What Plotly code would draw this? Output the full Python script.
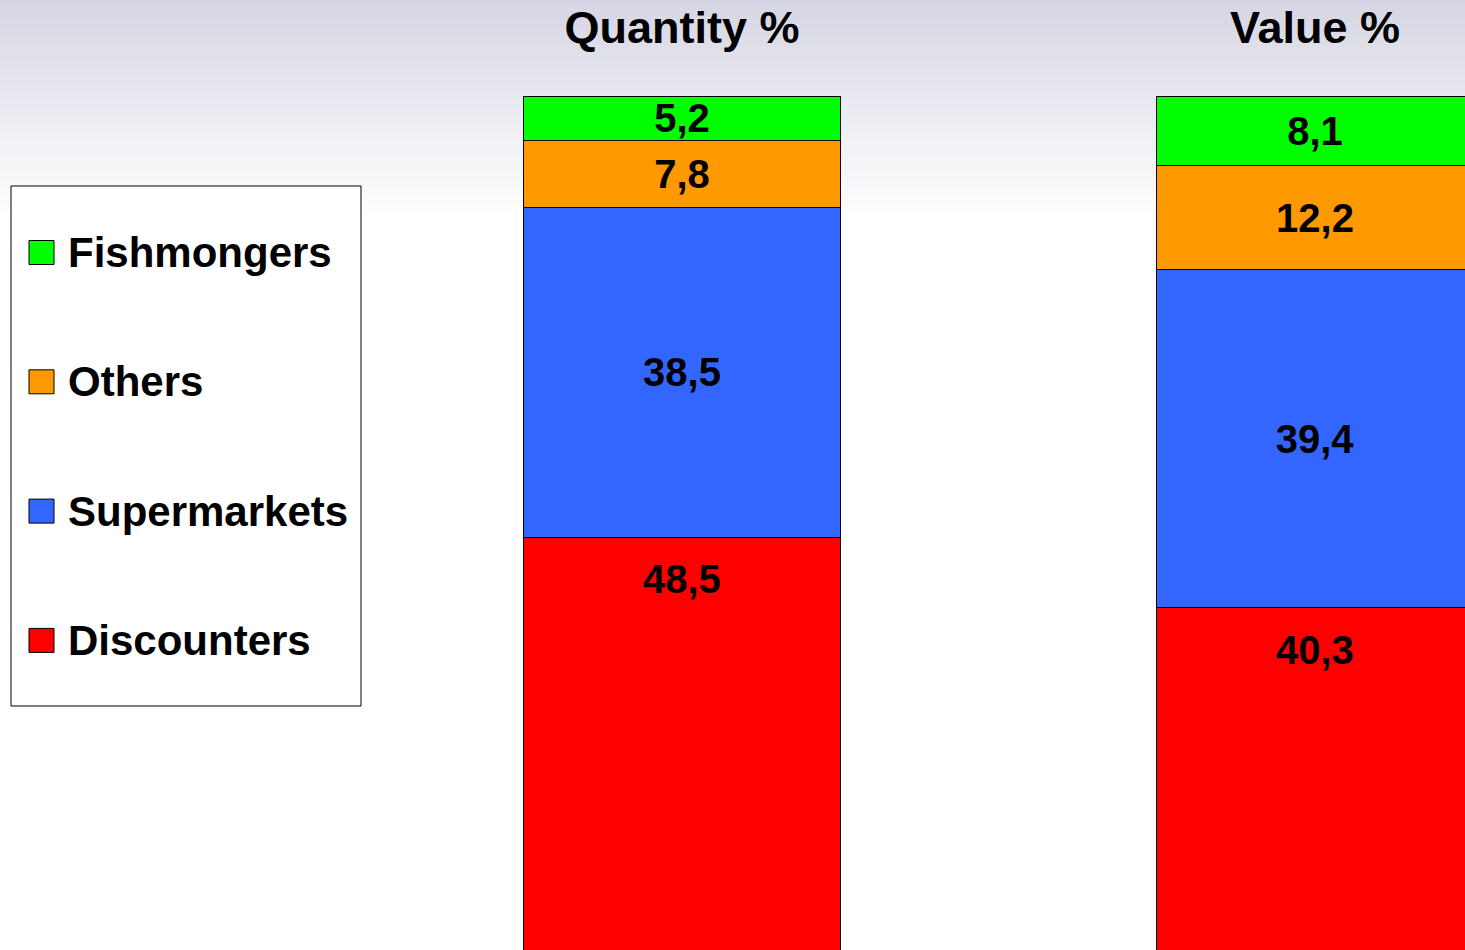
import plotly.graph_objects as go

# ---- data ----
categories = ["Quantity %", "Value %"]
series_names = ["Discounters", "Supermarkets", "Others", "Fishmongers"]
discounters = [48.5, 40.3]
supermarkets = [38.5, 39.4]
others = [7.8, 12.2]
fishmongers = [5.2, 8.1]
colors = {"Discounters": "#FF0000", "Supermarkets": "#3366FF",
          "Others": "#FF9900", "Fishmongers": "#00FF00"}

series_values = {"Discounters": discounters, "Supermarkets": supermarkets,
                 "Others": others, "Fishmongers": fishmongers}

W, H = 1465, 950
TOP, BOTTOM = 96, 950
FONT = "Liberation Sans, Arial, sans-serif"


def fmt(v):
    return f"{v:.1f}".replace(".", ",")


def px_x(px):
    return px / W


def px_y(py):
    return (BOTTOM - py) / (BOTTOM - TOP)


fig = go.Figure()
for name in series_names:
    vals = series_values[name]
    show_text = name != "Discounters"
    fig.add_trace(go.Bar(
        x=categories, y=vals, name=name,
        marker=dict(color=colors[name], line=dict(color="black", width=1)),
        text=[fmt(v) for v in vals] if show_text else None,
        textposition="inside" if show_text else "none",
        insidetextanchor="middle",
        constraintext="none",
        textfont=dict(family=FONT, size=40, color="black", weight="bold"),
        width=0.5,
        showlegend=False,
        hoverinfo="skip",
    ))

annotations = []
# Discounters labels placed near top of their segment
for cat, v in zip(categories, discounters):
    annotations.append(dict(
        x=cat, y=v, xref="x", yref="y", text=fmt(v), showarrow=False,
        yanchor="top", yshift=-18,
        font=dict(family=FONT, size=40, color="black", weight="bold")))

shapes = []
# background gradient
n_strips = 44
grad_h = 220
for i in range(n_strips):
    y0 = i * grad_h / n_strips
    y1 = (i + 1) * grad_h / n_strips + 0.5
    t = i / (n_strips - 1)
    r = round(214 + (255 - 214) * t)
    b = round(228 + (255 - 228) * t)
    shapes.append(dict(type="rect", xref="paper", yref="paper",
                       x0=0, x1=1, y0=px_y(y1), y1=px_y(y0),
                       fillcolor=f"rgb({r},{r},{b})", line=dict(width=0),
                       layer="below"))

# manual legend
shapes.append(dict(type="rect", xref="paper", yref="paper",
                   x0=px_x(11), x1=px_x(361), y0=px_y(706), y1=px_y(186),
                   fillcolor="white", line=dict(color="black", width=1),
                   layer="above"))
legend_order = list(reversed(series_names))
for i, name in enumerate(legend_order):
    cy = 252.5 + i * 129.3
    shapes.append(dict(type="rect", xref="paper", yref="paper",
                       x0=px_x(29), x1=px_x(54), y0=px_y(cy + 12), y1=px_y(cy - 12),
                       fillcolor=colors[name], line=dict(color="black", width=1),
                       layer="above"))
    annotations.append(dict(
        x=px_x(66), y=px_y(cy), xref="paper", yref="paper", text=name,
        showarrow=False, xanchor="left", yanchor="middle",
        font=dict(family=FONT, size=42, color="black", weight="bold")))

c0, c1 = 682, 1315
sp = c1 - c0
fig.update_layout(
    width=W, height=H,
    margin=dict(l=0, r=0, t=TOP, b=H - BOTTOM, pad=0),
    barmode="stack",
    paper_bgcolor="white",
    plot_bgcolor="rgba(0,0,0,0)",
    showlegend=False,
    xaxis=dict(range=[-c0 / sp, (W - c0) / sp], side="top",
               showline=False, showgrid=False, zeroline=False, ticks="",
               tickfont=dict(family=FONT, size=45, color="black", weight="bold"),
               ticklabelstandoff=43),
    yaxis=dict(range=[0.35, 100], visible=False, showgrid=False),
    shapes=shapes,
    annotations=annotations,
)

fig.write_html("out.html",
               config={"displayModeBar": False, "staticPlot": True},
               post_script="document.body.style.margin='0';document.body.style.overflow='hidden';")
